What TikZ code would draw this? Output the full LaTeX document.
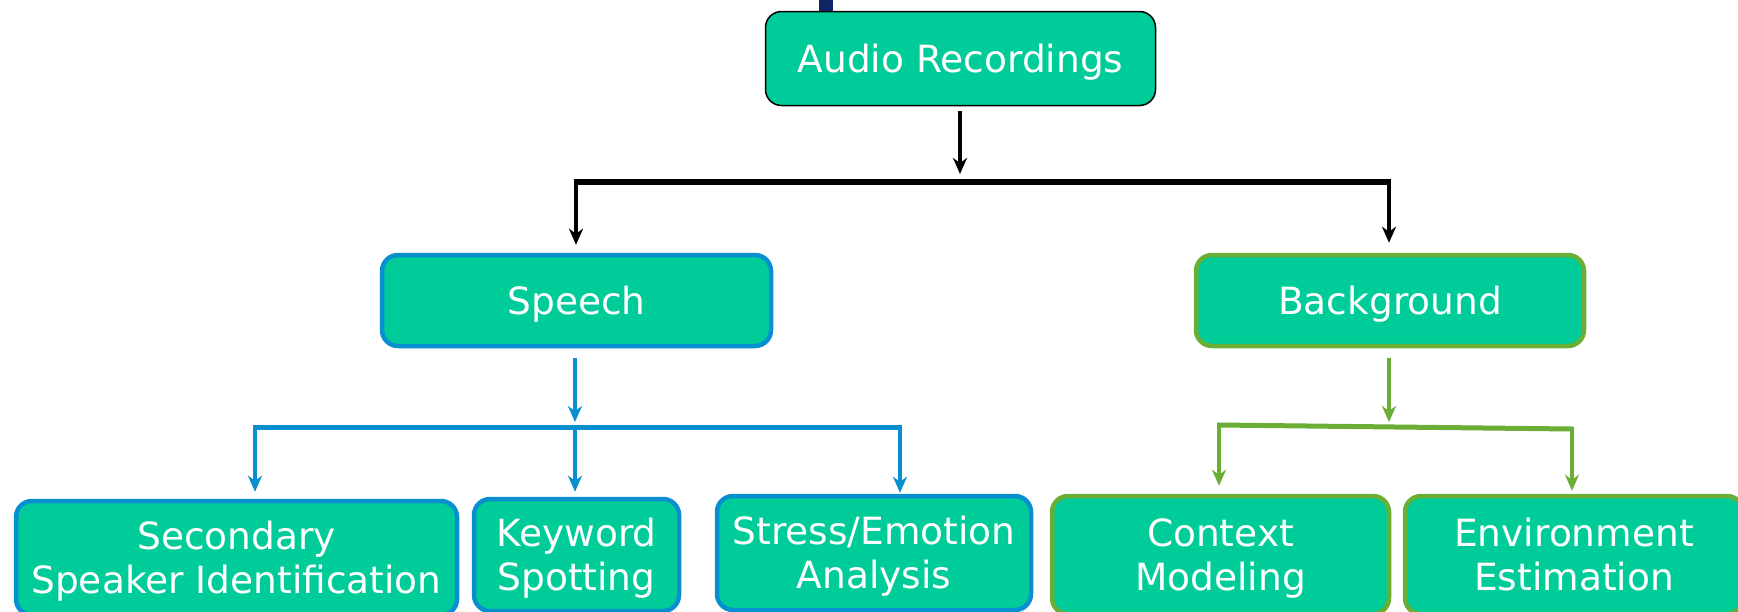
\documentclass[tikz,border=0pt]{standalone}
\usepackage{fontspec}
\setmainfont{DejaVu Sans}
\usetikzlibrary{arrows.meta}
\definecolor{tealfill}{RGB}{0,204,153}
\definecolor{bordblue}{RGB}{8,143,208}
\definecolor{bordgreen}{RGB}{106,174,53}
\definecolor{navy}{RGB}{14,38,102}
\newcommand\tpstrut{\rule{0pt}{36.4pt}}
\newcommand\btstrut{\rule[-9pt]{0pt}{9pt}}
\tikzset{
  box/.style={rectangle, rounded corners=16pt, fill=tealfill, text=white,
    font=\fontsize{37.5}{44}\selectfont, align=center, inner sep=0pt},
  audiobox/.style={box, draw=black, line width=1.5pt},
  bluebox/.style={box, draw=bordblue, line width=4.5pt},
  greenbox/.style={box, draw=bordgreen, line width=4.5pt},
  tip/.style={-{Stealth[length=16pt,width=14pt,inset=5pt]}},
  blkline/.style={draw=black, line width=4pt},
  bluline/.style={draw=bordblue, line width=4pt},
  grnline/.style={draw=bordgreen, line width=4pt},
}
\begin{document}
\begin{tikzpicture}[x=1pt,y=-1pt]
\useasboundingbox (0,0) rectangle (1738,611);
\clip (0,0) rectangle (1738,611);
\fill[navy] (819,-2) rectangle (833,11);
\node[audiobox, minimum width=390pt, minimum height=94pt] (audio) at (960.5,58.5) {\tpstrut Audio Recordings\btstrut};
\node[bluebox, minimum width=389pt, minimum height=91pt] (speech) at (576.5,300.5) {\tpstrut Speech\btstrut};
\node[greenbox, minimum width=388pt, minimum height=91pt] (bg) at (1390,300.5) {\tpstrut Background\btstrut};
\node[bluebox, minimum width=441pt, minimum height=114pt] (sec) at (236.5,558) {\tpstrut Secondary\\Speaker Identification\btstrut};
\node[bluebox, minimum width=205pt, minimum height=112pt] (kw) at (576.5,555) {\tpstrut Keyword\\Spotting\btstrut};
\node[bluebox, minimum width=314pt, minimum height=114pt] (se) at (874,553) {\tpstrut Stress/Emotion\\Analysis\btstrut};
\node[greenbox, minimum width=337pt, minimum height=118pt] (cm) at (1220.5,555) {\tpstrut Context\\Modeling\btstrut};
\node[greenbox, minimum width=338pt, minimum height=118pt] (env) at (1574,555) {\tpstrut Environment\\Estimation\btstrut};
% black connectors
\coordinate (j0) at (960,182);
\coordinate (jl) at (576,182);
\coordinate (jr) at (1389,182);
\draw[blkline, line width=3.5pt, tip, shorten <=5pt, shorten >=8pt] (audio.south -| j0) -- (j0);
\draw[blkline, line width=6pt, shorten <=-1.75pt, shorten >=-1.75pt] (jl) -- (jr);
\draw[blkline, line width=3.5pt, tip, shorten >=8pt] (jl) -- (jl |- speech.north);
\draw[blkline, line width=3.5pt, tip, shorten >=10pt] (jr) -- (jr |- bg.north);
% blue connectors
\coordinate (b0) at (575,427);
\coordinate (bl) at (255,427);
\coordinate (bm) at (575,427);
\coordinate (br) at (900,427);
\draw[bluline, tip, shorten <=10pt, shorten >=5pt] (speech.south -| b0) -- (b0);
\draw[bluline, line width=5pt, shorten <=-2pt, shorten >=-2pt] (bl) -- (br);
\draw[bluline, tip, shorten >=7pt] (bl) -- (bl |- sec.north);
\draw[bluline, tip, shorten >=5pt] (bm) -- (bm |- kw.north);
\draw[bluline, tip, shorten >=1pt] (br) -- (br |- se.north);
% green connectors
\coordinate (g0) at (1389,427);
\coordinate (gl) at (1219,425);
\coordinate (gr) at (1572,429);
\draw[grnline, tip, shorten <=10pt, shorten >=5pt] (bg.south -| g0) -- (g0);
\draw[grnline, line width=5pt, shorten <=-2pt, shorten >=-2pt] (gl) -- (gr);
\draw[grnline, tip, shorten >=8pt] (gl) -- (gl |- cm.north);
\draw[grnline, tip, shorten >=3pt] (gr) -- (gr |- env.north);
\end{tikzpicture}
\end{document}
